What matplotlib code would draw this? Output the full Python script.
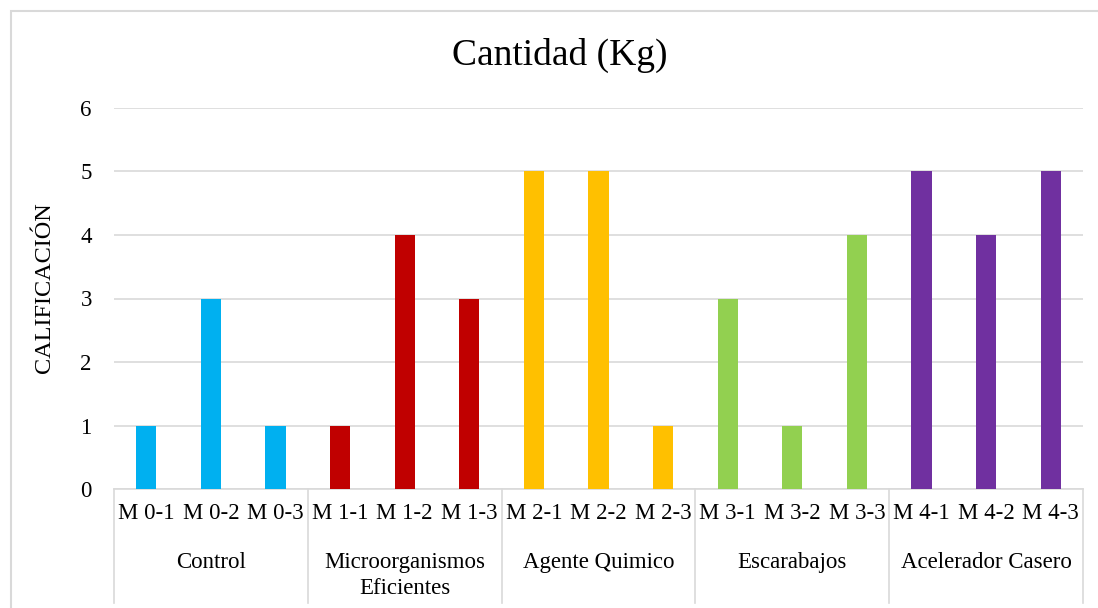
import matplotlib
matplotlib.use('Agg')
import matplotlib.pyplot as plt
from matplotlib.patches import Rectangle
from matplotlib.lines import Line2D

plt.rcParams['font.family'] = ['Liberation Serif', 'DejaVu Serif']

groups = ['Control', 'Microorganismos\nEficientes', 'Agente Quimico',
          'Escarabajos', 'Acelerador Casero']
labels = ['M 0-1', 'M 0-2', 'M 0-3',
          'M 1-1', 'M 1-2', 'M 1-3',
          'M 2-1', 'M 2-2', 'M 2-3',
          'M 3-1', 'M 3-2', 'M 3-3',
          'M 4-1', 'M 4-2', 'M 4-3']
values = [1, 3, 1,
          1, 4, 3,
          5, 5, 1,
          3, 1, 4,
          5, 4, 5]
group_colors = ['#00B0F0', '#C00000', '#FFC000', '#92D050', '#7030A0']

colors = []
for c in group_colors:
    colors += [c] * 3

W, H = 1098, 608
fig = plt.figure(figsize=(W / 100, H / 100), dpi=100)
ax = fig.add_axes([114 / W, 1 - 489 / H, 969 / W, 381 / H])

x = list(range(len(labels)))
ax.bar(x, values, width=0.31, color=colors, zorder=3)
ax.set_xlim(-0.5, len(labels) - 0.5)
ax.set_ylim(0, 6)
ax.set_yticks(range(0, 7))
ax.yaxis.grid(True, color='#D9D9D9', linewidth=1.2, zorder=0)
ax.set_xticks(x)
ax.set_xticklabels(labels, fontsize=16.5)
ax.tick_params(axis='x', length=0, pad=10)
ax.tick_params(axis='y', length=0, labelsize=16.5, pad=16)
for s in ['top', 'right', 'left']:
    ax.spines[s].set_visible(False)
ax.spines['bottom'].set_color('#D9D9D9')
ax.spines['bottom'].set_linewidth(1.2)

fig.text(45 / W, 1 - 288 / H, 'CALIFICACIÓN', rotation=90, fontsize=17.5,
         ha='center', va='center')
fig.text(560 / W, 1 - 55 / H, 'Cantidad (Kg)', fontsize=27,
         ha='center', va='center')

# group separators and labels below the axis
trans = ax.get_xaxis_transform()
for i in range(len(groups) + 1):
    ax.add_line(Line2D([i * 3 - 0.5, i * 3 - 0.5], [0, -0.3], transform=trans,
                       color='#D9D9D9', linewidth=1.2, clip_on=False))
for i, g in enumerate(groups):
    ax.text(i * 3 + 1, -0.165, g, transform=trans, ha='center', va='top',
            fontsize=16.5, linespacing=1.35)

# chart area border
fig.patches.append(Rectangle((11 / W, -0.1), 1.2, 1 - 11 / H + 0.1,
                             transform=fig.transFigure, fill=False,
                             edgecolor='#D9D9D9', linewidth=1.5))

fig.savefig('out.png', dpi=100)
